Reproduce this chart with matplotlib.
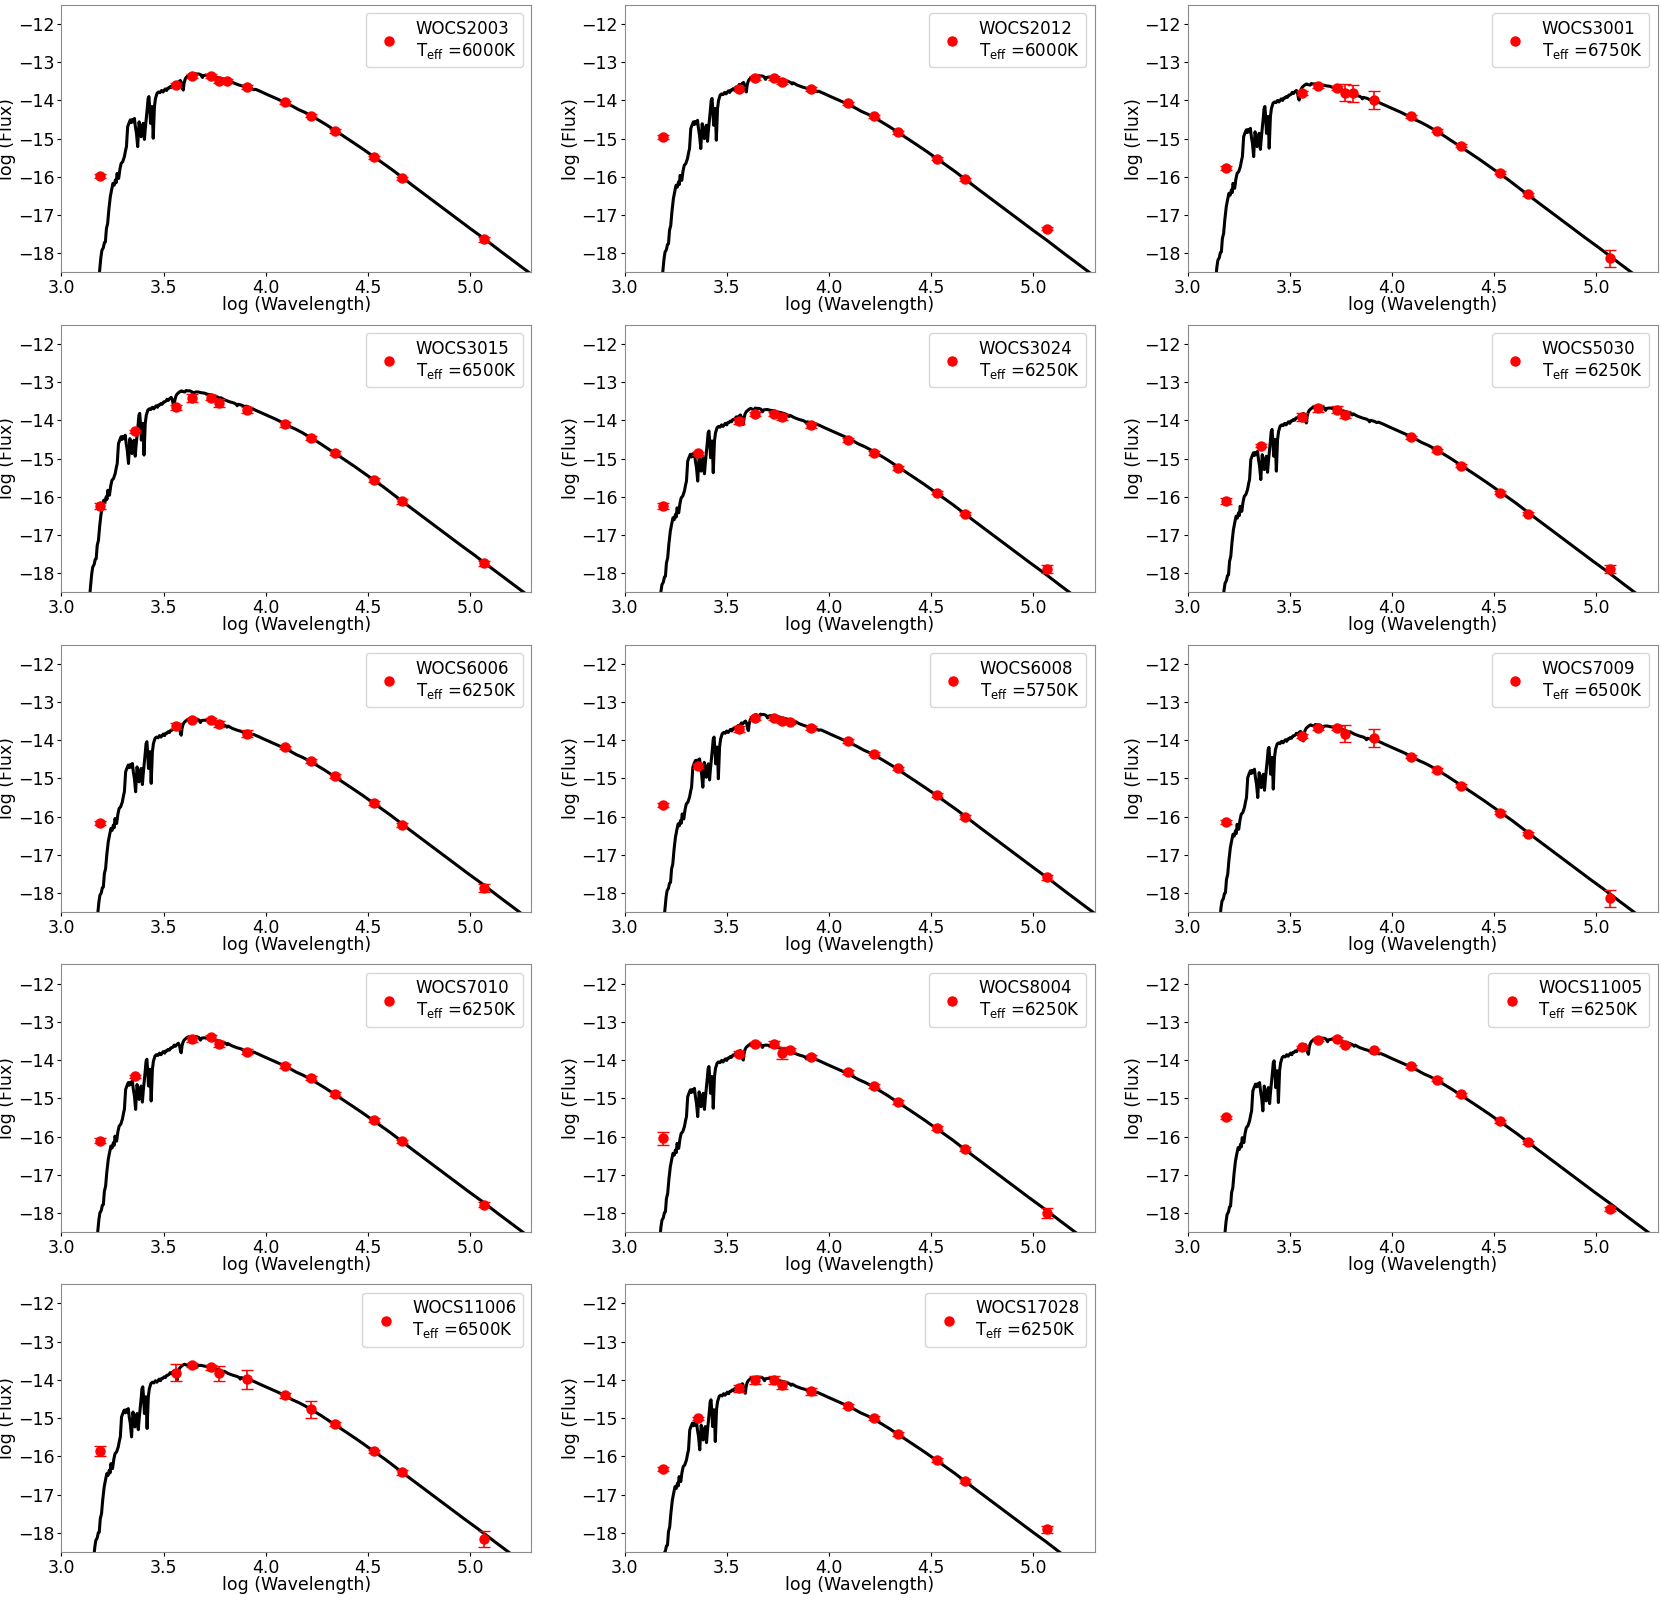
import numpy as np
import matplotlib
matplotlib.use("Agg")
import matplotlib.pyplot as plt

# photometric bands (log wavelength), same for every star
WAVE = [3.187, 3.360, 3.560, 3.640, 3.730, 3.770, 3.810, 3.910,
        4.093, 4.222, 4.337, 4.528, 4.666, 5.066]

nan = np.nan

STARS = ["WOCS2003", "WOCS2012", "WOCS3001", "WOCS3015", "WOCS3024",
         "WOCS5030", "WOCS6006", "WOCS6008", "WOCS7009", "WOCS7010",
         "WOCS8004", "WOCS11005", "WOCS11006", "WOCS17028"]
TEFF = [6000, 6000, 6750, 6500, 6250, 6250, 6250, 5750, 6500, 6250,
        6250, 6250, 6500, 6250]

# observed log flux per star (nan = no point)
FLUX_2003 = [-15.98, nan, -13.60, -13.36, -13.36, -13.49, -13.49, -13.66, -14.05, -14.40, -14.80, -15.49, -16.04, -17.63]
FLUX_2012 = [-14.95, nan, -13.70, -13.42, -13.42, -13.52, nan, -13.71, -14.08, -14.42, -14.83, -15.52, -16.06, -17.35]
FLUX_3001 = [-15.76, nan, -13.80, -13.62, -13.67, -13.80, -13.81, -13.99, -14.42, -14.79, -15.19, -15.89, -16.45, -18.13]
FLUX_3015 = [-16.24, -14.29, -13.66, -13.41, -13.41, -13.55, nan, -13.73, -14.11, -14.46, -14.85, -15.57, -16.12, -17.74]
FLUX_3024 = [-16.25, -14.86, -14.01, -13.83, -13.83, -13.92, nan, -14.13, -14.51, -14.86, -15.25, -15.89, -16.44, -17.89]
FLUX_5030 = [-16.11, -14.66, -13.91, -13.69, -13.72, -13.85, nan, nan, -14.44, -14.79, -15.19, -15.89, -16.45, -17.89]
FLUX_6006 = [-16.17, nan, -13.63, -13.46, -13.46, -13.58, nan, -13.83, -14.19, -14.54, -14.94, -15.65, -16.22, -17.87]
FLUX_6008 = [-15.70, -14.68, -13.70, -13.43, -13.41, -13.50, -13.52, -13.68, -14.03, -14.35, -14.74, -15.43, -16.00, -17.59]
FLUX_7009 = [-16.15, nan, -13.90, -13.69, -13.69, -13.83, nan, -13.95, -14.43, -14.78, -15.19, -15.90, -16.45, -18.14]
FLUX_7010 = [-16.11, -14.43, nan, -13.46, -13.40, -13.57, nan, -13.78, -14.16, -14.48, -14.88, -15.57, -16.13, -17.78]
FLUX_8004 = [-16.05, nan, -13.83, -13.57, -13.59, -13.81, -13.74, -13.92, -14.31, -14.68, -15.09, -15.78, -16.33, -18.00]
FLUX_11005 = [-15.50, nan, -13.66, -13.47, -13.44, -13.60, nan, -13.74, -14.16, -14.51, -14.90, -15.60, -16.15, -17.90]
FLUX_11006 = [-15.87, nan, -13.81, -13.61, -13.67, -13.83, nan, -13.98, -14.40, -14.77, -15.15, -15.87, -16.42, -18.16]
FLUX_17028 = [-16.33, -15.00, -14.22, -14.00, -14.00, -14.13, nan, -14.30, -14.68, -15.00, -15.41, -16.10, -16.64, -17.91]

ERR_2003 = [0.06, 0, 0.05, 0.05, 0.05, 0.06, 0.06, 0.05, 0.04, 0.04, 0.04, 0.04, 0.04, 0.06]
ERR_2012 = [0.05, 0, 0.05, 0.05, 0.05, 0.05, 0, 0.05, 0.04, 0.04, 0.04, 0.04, 0.04, 0.05]
ERR_3001 = [0.05, 0, 0.05, 0.05, 0.05, 0.22, 0.22, 0.24, 0.04, 0.04, 0.04, 0.04, 0.04, 0.22]
ERR_3015 = [0.07, 0.04, 0.07, 0.10, 0.07, 0.10, 0, 0.08, 0.06, 0.05, 0.05, 0.05, 0.06, 0.07]
ERR_3024 = [0.08, 0.04, 0.08, 0.05, 0.05, 0.08, 0, 0.06, 0.05, 0.05, 0.05, 0.05, 0.05, 0.10]
ERR_5030 = [0.07, 0.04, 0.10, 0.10, 0.10, 0.10, 0, 0, 0.04, 0.04, 0.04, 0.04, 0.04, 0.10]
ERR_6006 = [0.06, 0, 0.08, 0.05, 0.05, 0.08, 0, 0.10, 0.05, 0.05, 0.05, 0.05, 0.05, 0.10]
ERR_6008 = [0.05, 0.05, 0.08, 0.05, 0.05, 0.05, 0.05, 0.06, 0.05, 0.05, 0.05, 0.05, 0.05, 0.06]
ERR_7009 = [0.05, 0, 0.05, 0.05, 0.05, 0.23, 0, 0.23, 0.04, 0.04, 0.04, 0.04, 0.04, 0.22]
ERR_7010 = [0.06, 0.04, 0, 0.07, 0.06, 0.08, 0, 0.07, 0.05, 0.05, 0.05, 0.05, 0.05, 0.07]
ERR_8004 = [0.17, 0, 0.06, 0.05, 0.08, 0.15, 0.05, 0.06, 0.05, 0.05, 0.05, 0.05, 0.05, 0.12]
ERR_11005 = [0.04, 0, 0.04, 0.04, 0.04, 0.04, 0, 0.04, 0.04, 0.04, 0.04, 0.04, 0.04, 0.05]
ERR_11006 = [0.13, 0, 0.23, 0.05, 0.06, 0.20, 0, 0.25, 0.06, 0.23, 0.05, 0.05, 0.06, 0.20]
ERR_17028 = [0.06, 0.04, 0.10, 0.10, 0.10, 0.10, 0, 0.10, 0.05, 0.05, 0.05, 0.05, 0.05, 0.10]

FLUXES = [FLUX_2003, FLUX_2012, FLUX_3001, FLUX_3015, FLUX_3024, FLUX_5030,
          FLUX_6006, FLUX_6008, FLUX_7009, FLUX_7010, FLUX_8004, FLUX_11005,
          FLUX_11006, FLUX_17028]
ERRS = [ERR_2003, ERR_2012, ERR_3001, ERR_3015, ERR_3024, ERR_5030,
        ERR_6006, ERR_6008, ERR_7009, ERR_7010, ERR_8004, ERR_11005,
        ERR_11006, ERR_17028]

# model spectrum
MODEL_WL = [3.180, 3.187, 3.193, 3.198, 3.205, 3.210, 3.215, 3.220, 3.226, 3.232,
            3.239, 3.245, 3.252, 3.258, 3.264, 3.268, 3.272, 3.276, 3.280, 3.286,
            3.292, 3.300, 3.308, 3.314, 3.318, 3.322, 3.324, 3.330, 3.337, 3.342,
            3.347, 3.352, 3.357, 3.362, 3.367, 3.370, 3.373, 3.376, 3.380, 3.385,
            3.390, 3.395, 3.400, 3.403, 3.406, 3.410, 3.416, 3.420, 3.424, 3.428,
            3.432, 3.436, 3.440, 3.443, 3.446, 3.449, 3.452, 3.455, 3.460, 3.468,
            3.475, 3.482, 3.490, 3.497, 3.501, 3.508, 3.515, 3.520, 3.526, 3.532,
            3.538, 3.545, 3.550, 3.556, 3.562, 3.568, 3.575, 3.582, 3.588, 3.593,
            3.596, 3.600, 3.605, 3.610, 3.618, 3.625, 3.632, 3.640, 3.649, 3.655,
            3.662, 3.673, 3.682, 3.690, 3.695, 3.705, 3.714, 3.730, 3.745, 3.760,
            3.780, 3.800, 3.815, 3.820, 3.825, 3.845, 3.870, 3.890, 3.900, 3.905,
            3.910, 3.930, 3.940, 3.950, 3.976, 4.000, 4.030, 4.060, 4.093, 4.130,
            4.160, 4.190, 4.222, 4.260, 4.300, 4.337, 4.380, 4.430, 4.480, 4.528,
            4.570, 4.620, 4.666, 4.720, 4.800, 4.900, 5.000, 5.067, 5.150, 5.250,
            5.400]
MODEL_F = [-18.90, -18.44, -18.10, -17.92, -17.85, -17.72, -17.70, -17.35, -17.22, -16.85,
           -16.52, -16.35, -16.17, -16.22, -16.08, -16.15, -15.91, -15.98, -16.04, -15.80,
           -15.65, -15.60, -15.47, -15.30, -15.21, -14.85, -14.69, -14.60, -14.51, -14.58,
           -14.50, -14.56, -14.47, -14.70, -14.86, -15.05, -15.21, -14.90, -14.56, -14.75,
           -14.95, -14.70, -14.60, -14.80, -15.02, -14.75, -14.43, -14.20, -13.95, -13.90,
           -14.20, -14.60, -14.35, -14.16, -14.50, -14.99, -14.55, -14.16, -13.95, -13.81,
           -13.78, -13.80, -13.74, -13.78, -13.75, -13.70, -13.74, -13.68, -13.68, -13.64,
           -13.66, -13.60, -13.60, -13.58, -13.53, -13.56, -13.51, -13.48, -13.55, -13.70,
           -13.73, -13.55, -13.45, -13.40, -13.36, -13.33, -13.31, -13.33, -13.34, -13.30,
           -13.31, -13.31, -13.33, -13.40, -13.35, -13.34, -13.34, -13.36, -13.37, -13.40,
           -13.42, -13.45, -13.49, -13.52, -13.49, -13.55, -13.60, -13.63, -13.66, -13.70,
           -13.66, -13.69, -13.72, -13.71, -13.77, -13.83, -13.90, -13.97, -14.05, -14.15,
           -14.24, -14.31, -14.40, -14.52, -14.65, -14.78, -14.93, -15.11, -15.29, -15.47,
           -15.63, -15.82, -16.01, -16.23, -16.55, -16.95, -17.35, -17.61, -17.95, -18.35,
           -18.95]

# per-star offsets of the model (log wavelength, log flux)
MODEL_DX = [0.0, 0.0, -0.05, -0.045, -0.015, -0.015, -0.01, 0.01, -0.03, -0.01,
            -0.015, -0.005, -0.03, -0.005]
MODEL_DY = [0.0, -0.05, -0.26, 0.08, -0.38, -0.34, -0.14, -0.02, -0.29, -0.08,
            -0.27, -0.12, -0.28, -0.62]

fig, axes = plt.subplots(5, 3, figsize=(16.61, 16.0), dpi=100)
plt.subplots_adjust(left=0.037, right=0.998, top=0.997, bottom=0.03,
                    wspace=0.198, hspace=0.195)

mwl = np.array(MODEL_WL)
mf = np.array(MODEL_F)
wave = np.array(WAVE)

for i, ax in enumerate(axes.flat):
    if i >= len(STARS):
        ax.axis("off")
        continue
    ax.plot(mwl + MODEL_DX[i], mf + MODEL_DY[i], color="black", lw=2.2, zorder=2)
    flux = np.array(FLUXES[i])
    err = np.array(ERRS[i])
    ok = ~np.isnan(flux)
    ax.errorbar(wave[ok], flux[ok], yerr=err[ok], fmt="none", ecolor="red",
                elinewidth=1.2, capsize=4, zorder=3)
    ax.plot(wave[ok], flux[ok], "o", color="red", ms=6.5, zorder=4,
            label=STARS[i] + "\nT$_{\\rm eff}$ =" + str(TEFF[i]) + "K")
    ax.set_xlim(3.0, 5.3)
    ax.set_ylim(-18.5, -11.5)
    ax.set_xticks([3.0, 3.5, 4.0, 4.5, 5.0])
    ax.set_yticks([-12, -13, -14, -15, -16, -17, -18])
    ax.tick_params(labelsize=12.5, length=3, pad=2)
    ax.set_xlabel("log (Wavelength)", fontsize=12.5, labelpad=-1)
    ax.set_ylabel("log (Flux)", fontsize=12.5, labelpad=1)
    for sp in ax.spines.values():
        sp.set_color("0.55")
    ax.legend(loc="upper right", fontsize=12, handletextpad=0.6)

fig.savefig("out.png", dpi=100)
